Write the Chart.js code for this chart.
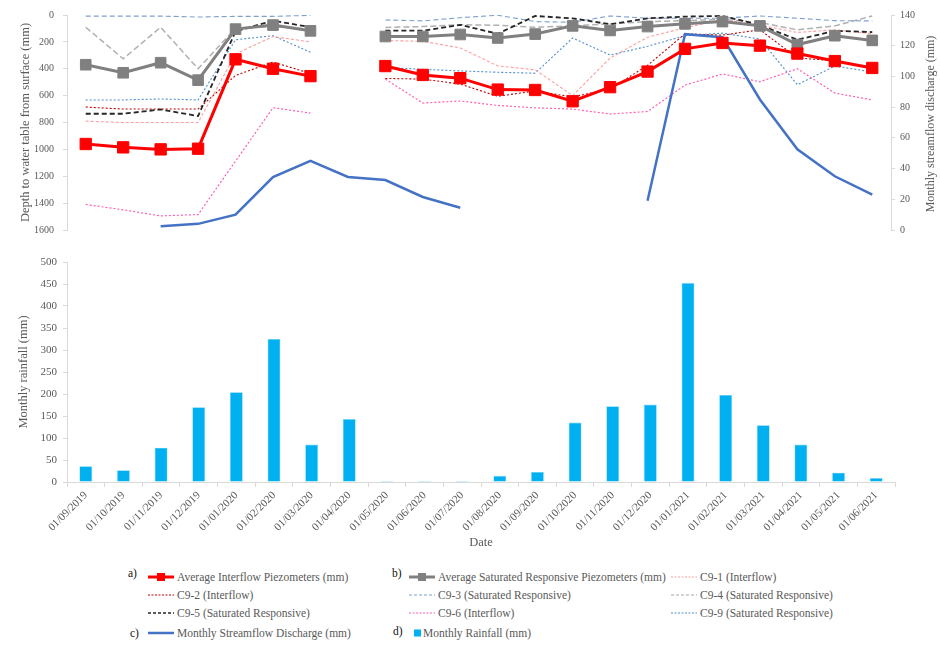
<!DOCTYPE html>
<html>
<head>
<meta charset="utf-8">
<script src="https://cdn.jsdelivr.net/npm/chart.js@4.4.1/dist/chart.umd.min.js"></script>
<style>
    body { margin: 0; background: #fff; width: 940px; height: 645px; overflow: hidden; position: relative; font-family: 'Liberation Serif', 'Times New Roman', serif; }
    #depthChart { position: absolute; left: 0; top: 0; }
    #rainChart { position: absolute; left: 0; top: 245px; }
    #rightTitle { position: absolute; left: 820px; top: 116px; width: 220px; text-align: center; font-size: 12px; line-height: 16px; color: #595959; transform: rotate(-90deg); transform-origin: 110px 8px; }
    .lg { position: absolute; font-size: 11.5px; color: #595959; white-space: nowrap; line-height: 14px; }
    .lg svg { position: absolute; top: 0; }
    .tag { position: absolute; font-size: 11.5px; color: #111; line-height: 14px; }
</style>
</head>
<body>
<canvas id="depthChart" width="940" height="245"></canvas>
<canvas id="rainChart" width="940" height="310"></canvas>
<div id="rightTitle">Monthly streamflow discharge (mm)</div>
<div id="legend"></div>
<script>
// Months (first day of each month)
const months = ['01/09/2019', '01/10/2019', '01/11/2019', '01/12/2019', '01/01/2020', '01/02/2020',
    '01/03/2020', '01/04/2020', '01/05/2020', '01/06/2020', '01/07/2020', '01/08/2020',
    '01/09/2020', '01/10/2020', '01/11/2020', '01/12/2020', '01/01/2021', '01/02/2021',
    '01/03/2021', '01/04/2021', '01/05/2021', '01/06/2021'];

// Depth to water table (mm)
const avgInterflow = [960, 985, 1000, 995, 330, 400, 455, null, 380, 446, 470, 555, 558, 642, 537, 421, 252, 208, 228, 287, 343, 394];
const avgSaturated = [370, 430, 355, 485, 105, 75, 118, null, 160, 160, 145, 171, 142, 81, 115, 86, 66, 49, 81, 220, 154, 189];
const c91 = [790, 800, 800, 800, 290, 160, 200, null, 190, 196, 245, 379, 408, 600, 320, 165, 95, 35, 75, 130, 110, 140];
const c92 = [685, 700, 700, 700, 450, 350, 435, null, 472, 477, 514, 605, 565, 610, 550, 375, 140, 150, 110, 320, 340, 390];
const c93 = [8, 8, 8, 15, 10, 10, 3, null, 37, 44, 20, 2, 49, 54, 7, 24, 24, 24, 7, 24, 42, 44];
const c94 = [91, 326, 91, 400, 98, 86, 105, null, 93, 86, 73, 76, 91, 81, 66, 49, 42, 32, 56, 110, 81, 7];
const c95 = [735, 735, 703, 752, 122, 42, 91, null, 117, 117, 73, 140, 7, 25, 69, 25, 12, 7, 74, 184, 118, 127];
const c96 = [1410, 1450, 1495, 1485, null, 690, 730, null, 477, 655, 640, 673, 691, 700, 737, 718, 522, 439, 497, 400, 581, 632];
const c99 = [632, 632, 625, 632, 184, 154, 277, null, 391, 404, 416, 426, 433, 171, 298, 233, 154, 135, 179, 519, 380, 424];

// Monthly streamflow discharge (mm), right axis
const streamflow = [null, null, 2.5, 4, 10, 34.5, 45, 34.5, 32.5, 21.5, 14.5, null, null, null, null, 19, 127.5, 125.5, 85, 52.5, 35, 23];

// Monthly rainfall (mm)
const rainfall = [36, 26.5, 78, 170, 204, 325, 85, 143, 2, 2, 2, 14, 23, 135, 172, 176, 452, 198, 129, 85, 21, 9];

const depthTicks = { min: 0, max: 1600, step: 200 };
const flowTicks = { min: 0, max: 140, step: 20 };
const rainTicks = { min: 0, max: 500, step: 50 };

const TXT = '#595959';
const AXIS = '#d9d9d9';
const SERIF = "'Liberation Serif', 'Times New Roman', serif";
const plain = v => String(v);

function dashed(label, data, color, width, dash) {
    return { label, data, borderColor: color, borderWidth: width, borderDash: dash, pointRadius: 0, fill: false, tension: 0, yAxisID: 'y' };
}

const pinkLine = dashed('C9-6 (Interflow)', c96, '#ff5fb4', 1.2, [2, 2]);
// C9-6 has no reading for Jan 2020 and the line is joined across it,
// but the April 2020 gap (no readings at all) stays open
pinkLine.spanGaps = true;
pinkLine.segment = { borderColor: ctx => (ctx.p0DataIndex === 7 || ctx.p1DataIndex === 7 ? 'rgba(0,0,0,0)' : undefined) };

new Chart(document.getElementById('depthChart'), {
    type: 'line',
    data: {
        labels: months,
        datasets: [
            {
                label: 'Average Interflow Piezometers (mm)', data: avgInterflow, yAxisID: 'y',
                borderColor: '#ff0000', backgroundColor: '#ff0000', borderWidth: 3,
                pointStyle: 'rect', pointRadius: 8, pointBorderWidth: 1, tension: 0
            },
            {
                label: 'Average Saturated Responsive Piezometers (mm)', data: avgSaturated, yAxisID: 'y',
                borderColor: '#808080', backgroundColor: '#808080', borderWidth: 3,
                pointStyle: 'rect', pointRadius: 7.5, pointBorderWidth: 1, tension: 0
            },
            {
                label: 'Monthly Streamflow Discharge (mm)', data: streamflow, yAxisID: 'y1',
                borderColor: '#4472c4', borderWidth: 2.5, pointRadius: 0, tension: 0
            },
            dashed('C9-5 (Saturated Responsive)', c95, '#262626', 1.8, [5, 3]),
            dashed('C9-1 (Interflow)', c91, '#ff9f9f', 1.1, [3, 2]),
            dashed('C9-2 (Interflow)', c92, '#c00000', 1.1, [2, 2]),
            dashed('C9-3 (Saturated Responsive)', c93, '#7f9fcf', 1.1, [5, 3]),
            dashed('C9-4 (Saturated Responsive)', c94, '#b0b0b0', 1.5, [6, 3]),
            pinkLine,
            dashed('C9-9 (Saturated Responsive)', c99, '#4f8fd0', 1.1, [2, 2])
        ]
    },
    options: {
        responsive: false,
        animation: false,
        layout: { padding: { top: 15, bottom: 12 } },
        plugins: { legend: { display: false }, tooltip: { enabled: false } },
        scales: {
            x: { display: false, offset: true },
            y: {
                reverse: true, min: depthTicks.min, max: depthTicks.max,
                ticks: { stepSize: depthTicks.step, callback: plain, color: TXT, font: { family: SERIF, size: 10 }, padding: 9 },
                grid: { drawOnChartArea: false, tickLength: 4, color: AXIS },
                border: { color: AXIS },
                title: { display: true, text: 'Depth to water table from surface (mm)', color: TXT, font: { family: SERIF, size: 12.5 }, padding: { top: 18 } },
                afterFit: s => { s.width = 67; }
            },
            y1: {
                position: 'right', min: flowTicks.min, max: flowTicks.max,
                ticks: { stepSize: flowTicks.step, callback: plain, color: TXT, font: { family: SERIF, size: 10 }, padding: 5 },
                grid: { drawOnChartArea: false, tickLength: 4, color: AXIS },
                border: { color: AXIS },
                afterFit: s => { s.width = 49; }
            }
        }
    }
});

new Chart(document.getElementById('rainChart'), {
    type: 'bar',
    data: {
        labels: months,
        datasets: [{
            label: 'Monthly Rainfall (mm)', data: rainfall,
            backgroundColor: '#00b0f0', borderColor: '#6fd3f7', borderWidth: 0.6,
            barPercentage: 0.34, categoryPercentage: 1
        }]
    },
    options: {
        responsive: false,
        animation: false,
        layout: { padding: { top: 17, right: 45 } },
        plugins: { legend: { display: false }, tooltip: { enabled: false } },
        scales: {
            x: {
                offset: true,
                grid: { offset: true, drawOnChartArea: false, tickLength: 5, color: AXIS },
                border: { color: AXIS },
                ticks: { minRotation: 45, maxRotation: 45, autoSkip: false, color: TXT, font: { family: SERIF, size: 11 }, padding: 2 },
                title: { display: true, text: 'Date', color: TXT, font: { family: SERIF, size: 12.5 }, padding: { top: 0, bottom: 5 } },
                afterFit: s => { s.height = 73; }
            },
            y: {
                min: rainTicks.min, max: rainTicks.max,
                ticks: { stepSize: rainTicks.step, callback: plain, color: TXT, font: { family: SERIF, size: 11 }, padding: 6 },
                grid: { drawOnChartArea: false, tickLength: 4, color: AXIS },
                border: { color: AXIS },
                title: { display: true, text: 'Monthly rainfall (mm)', color: TXT, font: { family: SERIF, size: 12.5 }, padding: { top: 16 } },
                afterFit: s => { s.width = 67; }
            }
        }
    }
});

// Legend, laid out in the same grid as the figure
const legendItems = [
    { x: 148, y: 570, text: 'Average Interflow Piezometers (mm)', color: '#ff0000', w: 3, dash: '', marker: 'sq' },
    { x: 409, y: 570, text: 'Average Saturated Responsive Piezometers (mm)', color: '#808080', w: 3, dash: '', marker: 'sq' },
    { x: 671, y: 570, text: 'C9-1 (Interflow)', color: '#ff9f9f', w: 1.2, dash: '2,1.5' },
    { x: 148, y: 588, text: 'C9-2 (Interflow)', color: '#c00000', w: 1.2, dash: '2,1.5' },
    { x: 409, y: 588, text: 'C9-3 (Saturated Responsive)', color: '#7f9fcf', w: 1.2, dash: '3,2' },
    { x: 671, y: 588, text: 'C9-4 (Saturated Responsive)', color: '#a6a6a6', w: 1.2, dash: '3,2' },
    { x: 148, y: 606, text: 'C9-5 (Saturated Responsive)', color: '#262626', w: 1.6, dash: '3,2' },
    { x: 409, y: 606, text: 'C9-6 (Interflow)', color: '#ff5fb4', w: 1.2, dash: '2,1.5' },
    { x: 671, y: 606, text: 'C9-9 (Saturated Responsive)', color: '#4f8fd0', w: 1.2, dash: '2,1.5' },
    { x: 148, y: 626, text: 'Monthly Streamflow Discharge (mm)', color: '#4472c4', w: 2.5, dash: '' },
    { x: 414, y: 626, text: 'Monthly Rainfall (mm)', color: '#00b0f0', marker: 'box' }
];
const tags = [['a)', 128, 566], ['b)', 392, 566], ['c)', 130, 626], ['d)', 393, 624]];

const legendEl = document.getElementById('legend');
legendItems.forEach(it => {
    const div = document.createElement('div');
    div.className = 'lg';
    div.style.left = it.x + 'px';
    div.style.top = it.y + 'px';
    let svg;
    if (it.marker === 'box') {
        svg = `<svg width="9" height="14" style="left:0"><rect x="0" y="3.5" width="7" height="7" fill="${it.color}"/></svg>`;
        div.style.paddingLeft = '9px';
    } else {
        const sq = it.marker === 'sq' ? `<rect x="9" y="3" width="8" height="8" fill="${it.color}"/>` : '';
        svg = `<svg width="27" height="14" style="left:0"><line x1="0" y1="7" x2="26" y2="7" stroke="${it.color}" stroke-width="${it.w}" stroke-dasharray="${it.dash}"/>${sq}</svg>`;
        div.style.paddingLeft = '29px';
    }
    div.innerHTML = svg + it.text;
    legendEl.appendChild(div);
});
tags.forEach(([t, x, y]) => {
    const d = document.createElement('div');
    d.className = 'tag';
    d.style.left = x + 'px';
    d.style.top = y + 'px';
    d.textContent = t;
    legendEl.appendChild(d);
});
</script>
</body>
</html>
